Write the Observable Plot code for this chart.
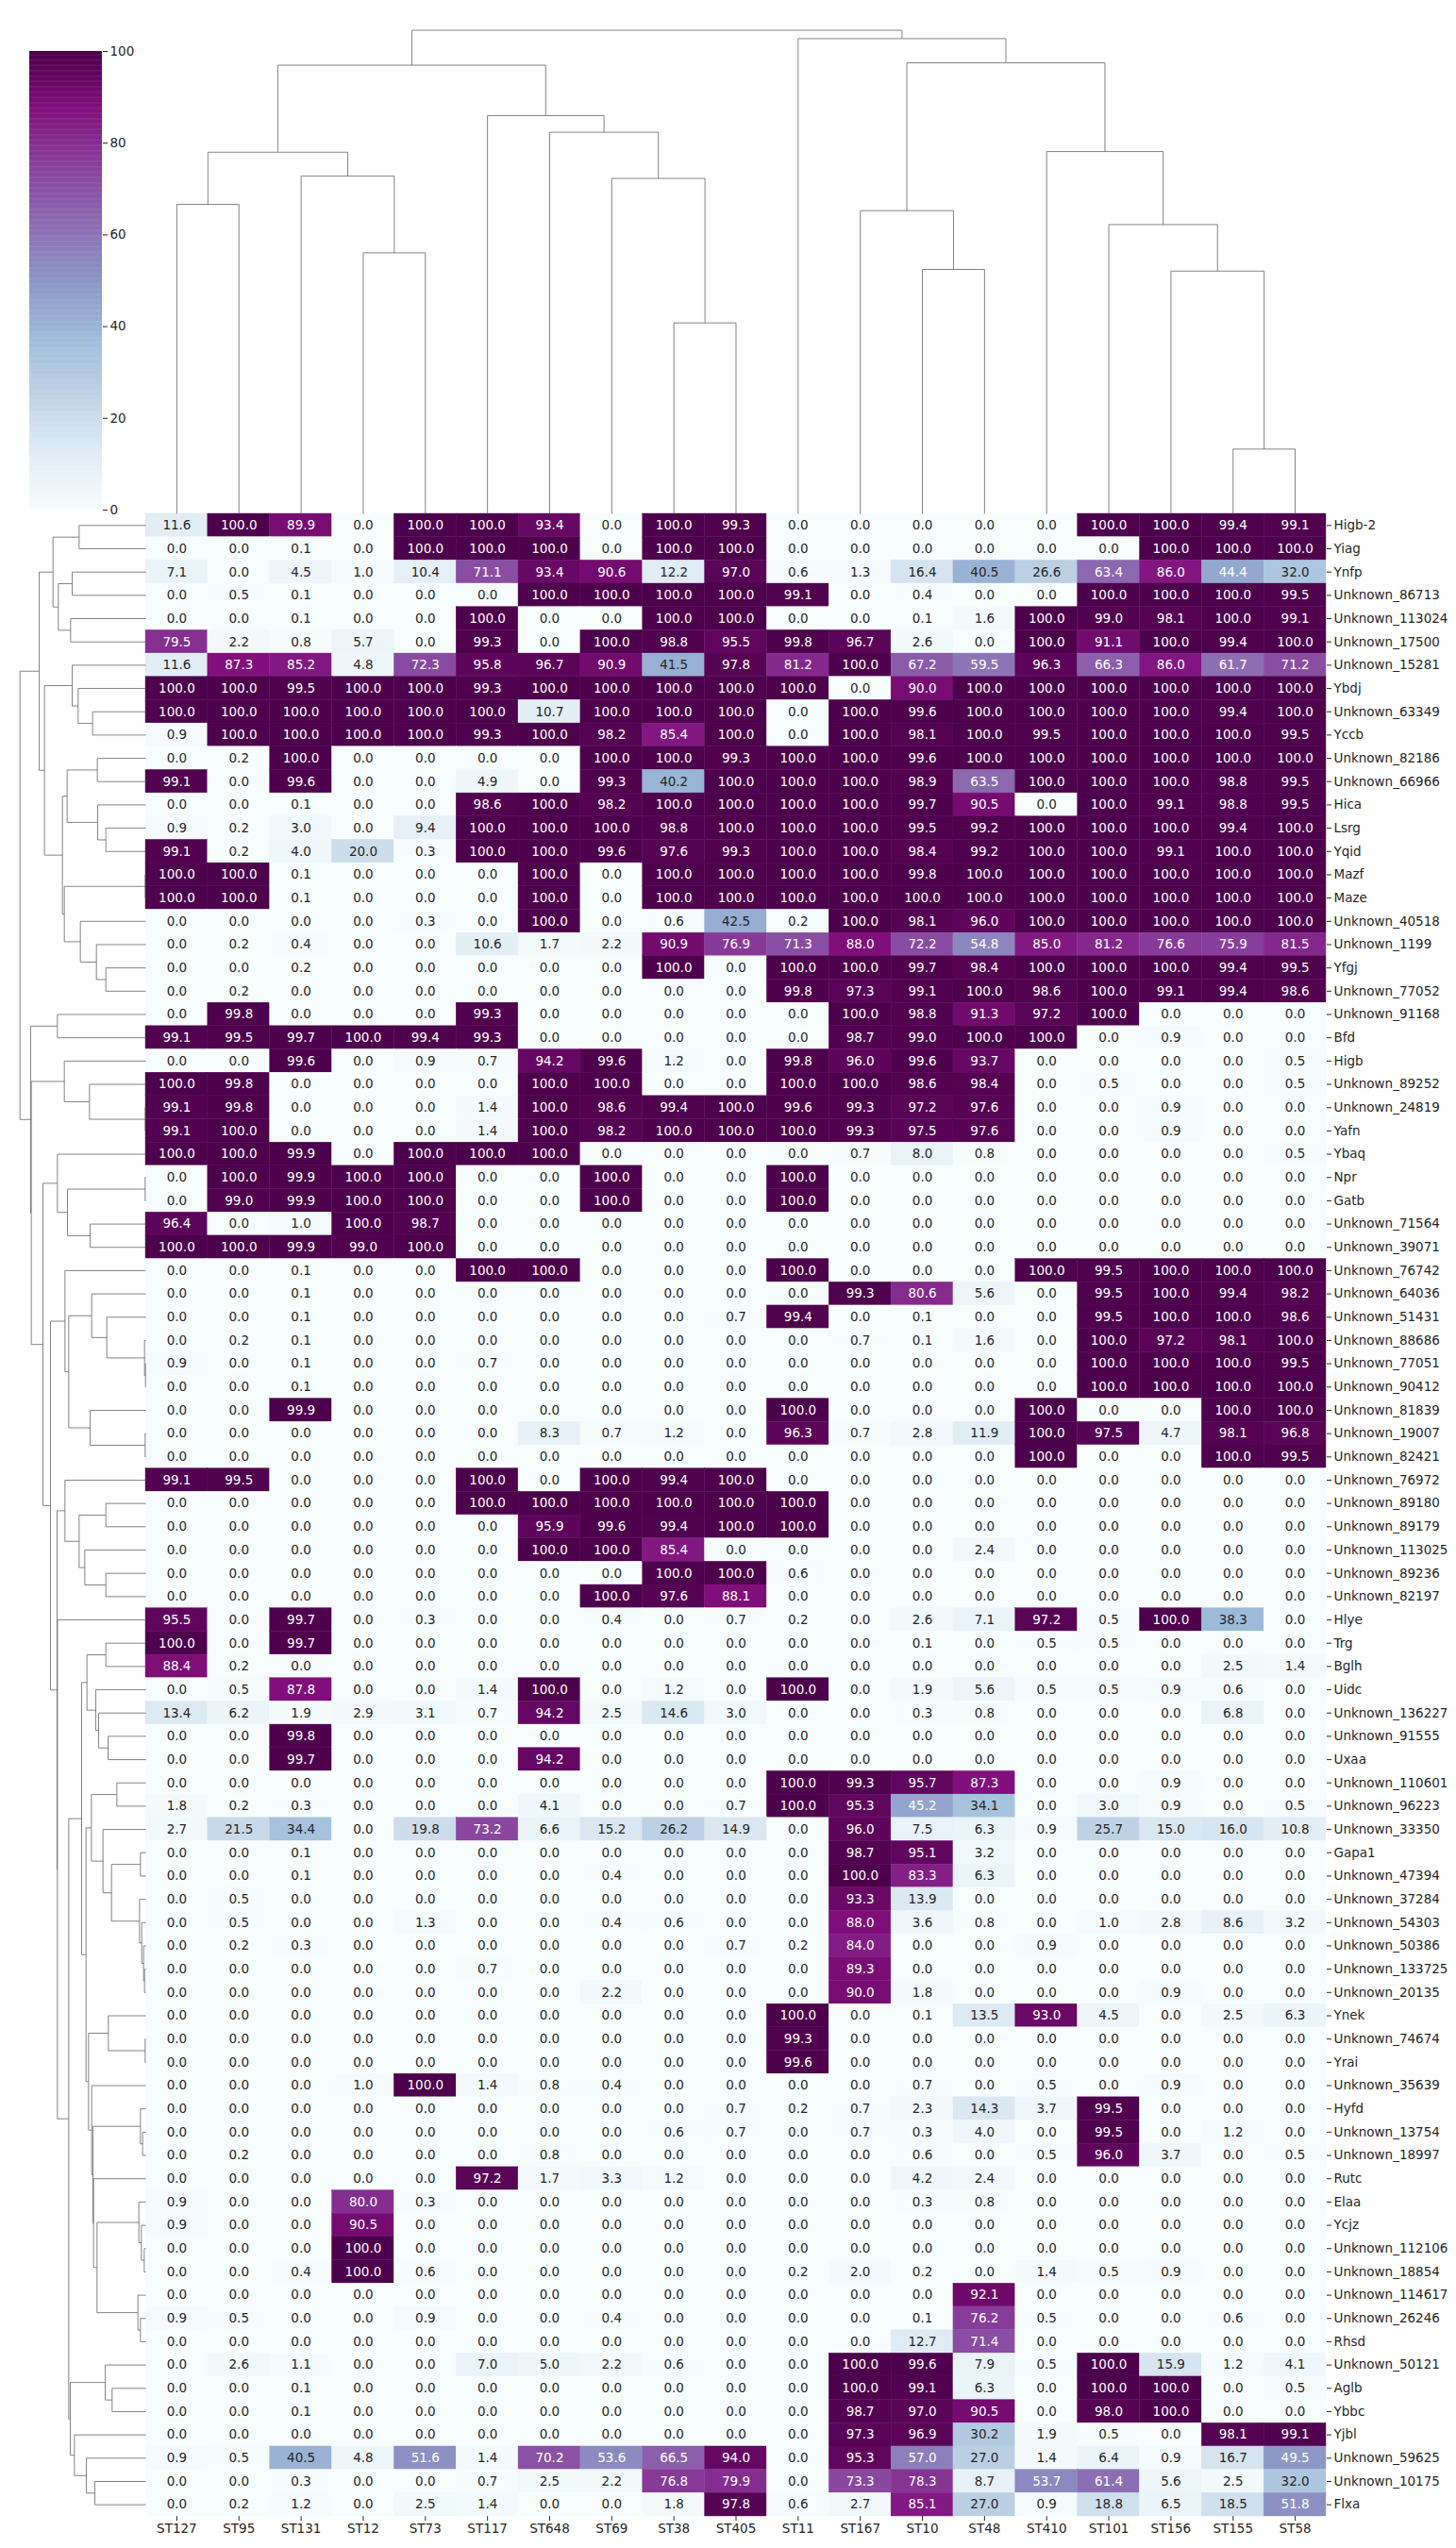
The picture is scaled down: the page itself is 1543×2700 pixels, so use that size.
<!DOCTYPE html>
<html><head><meta charset="utf-8">
<script src="https://cdn.jsdelivr.net/npm/d3@7"></script>
<script src="https://cdn.jsdelivr.net/npm/@observablehq/plot@0.6"></script>
<style>
body{margin:0;background:#fff;}
#wrap{position:relative;width:1543px;height:2700px;font-family:"DejaVu Sans",sans-serif;overflow:hidden;}
</style></head><body><div id="wrap"></div>
<script>
// ---------------- data ----------------
const columns = ["ST127","ST95","ST131","ST12","ST73","ST117","ST648","ST69","ST38","ST405","ST11","ST167","ST10","ST48","ST410","ST101","ST156","ST155","ST58"];

const rowLabels = ["Higb-2","Yiag","Ynfp","Unknown_86713","Unknown_113024","Unknown_17500","Unknown_15281","Ybdj","Unknown_63349","Yccb","Unknown_82186","Unknown_66966","Hica","Lsrg","Yqid","Mazf","Maze","Unknown_40518","Unknown_1199","Yfgj","Unknown_77052","Unknown_91168","Bfd","Higb","Unknown_89252","Unknown_24819","Yafn","Ybaq","Npr","Gatb","Unknown_71564","Unknown_39071","Unknown_76742","Unknown_64036","Unknown_51431","Unknown_88686","Unknown_77051","Unknown_90412","Unknown_81839","Unknown_19007","Unknown_82421","Unknown_76972","Unknown_89180","Unknown_89179","Unknown_113025","Unknown_89236","Unknown_82197","Hlye","Trg","Bglh","Uidc","Unknown_136227","Unknown_91555","Uxaa","Unknown_110601","Unknown_96223","Unknown_33350","Gapa1","Unknown_47394","Unknown_37284","Unknown_54303","Unknown_50386","Unknown_133725","Unknown_20135","Ynek","Unknown_74674","Yrai","Unknown_35639","Hyfd","Unknown_13754","Unknown_18997","Rutc","Elaa","Ycjz","Unknown_112106","Unknown_18854","Unknown_114617","Unknown_26246","Rhsd","Unknown_50121","Aglb","Ybbc","Yjbl","Unknown_59625","Unknown_10175","Flxa"];

const values = [
[11.6,100,89.9,0,100,100,93.4,0,100,99.3,0,0,0,0,0,100,100,99.4,99.1],
[0,0,0.1,0,100,100,100,0,100,100,0,0,0,0,0,0,100,100,100],
[7.1,0,4.5,1.0,10.4,71.1,93.4,90.6,12.2,97.0,0.6,1.3,16.4,40.5,26.6,63.4,86.0,44.4,32.0],
[0,0.5,0.1,0,0,0,100,100,100,100,99.1,0,0.4,0,0,100,100,100,99.5],
[0,0,0.1,0,0,100,0,0,100,100,0,0,0.1,1.6,100,99.0,98.1,100,99.1],
[79.5,2.2,0.8,5.7,0,99.3,0,100,98.8,95.5,99.8,96.7,2.6,0,100,91.1,100,99.4,100],
[11.6,87.3,85.2,4.8,72.3,95.8,96.7,90.9,41.5,97.8,81.2,100,67.2,59.5,96.3,66.3,86.0,61.7,71.2],
[100,100,99.5,100,100,99.3,100,100,100,100,100,0,90.0,100,100,100,100,100,100],
[100,100,100,100,100,100,10.7,100,100,100,0,100,99.6,100,100,100,100,99.4,100],
[0.9,100,100,100,100,99.3,100,98.2,85.4,100,0,100,98.1,100,99.5,100,100,100,99.5],
[0,0.2,100,0,0,0,0,100,100,99.3,100,100,99.6,100,100,100,100,100,100],
[99.1,0,99.6,0,0,4.9,0,99.3,40.2,100,100,100,98.9,63.5,100,100,100,98.8,99.5],
[0,0,0.1,0,0,98.6,100,98.2,100,100,100,100,99.7,90.5,0,100,99.1,98.8,99.5],
[0.9,0.2,3.0,0,9.4,100,100,100,98.8,100,100,100,99.5,99.2,100,100,100,99.4,100],
[99.1,0.2,4.0,20.0,0.3,100,100,99.6,97.6,99.3,100,100,98.4,99.2,100,100,99.1,100,100],
[100,100,0.1,0,0,0,100,0,100,100,100,100,99.8,100,100,100,100,100,100],
[100,100,0.1,0,0,0,100,0,100,100,100,100,100,100,100,100,100,100,100],
[0,0,0,0,0.3,0,100,0,0.6,42.5,0.2,100,98.1,96.0,100,100,100,100,100],
[0,0.2,0.4,0,0,10.6,1.7,2.2,90.9,76.9,71.3,88.0,72.2,54.8,85.0,81.2,76.6,75.9,81.5],
[0,0,0.2,0,0,0,0,0,100,0,100,100,99.7,98.4,100,100,100,99.4,99.5],
[0,0.2,0,0,0,0,0,0,0,0,99.8,97.3,99.1,100,98.6,100,99.1,99.4,98.6],
[0,99.8,0,0,0,99.3,0,0,0,0,0,100,98.8,91.3,97.2,100,0,0,0],
[99.1,99.5,99.7,100,99.4,99.3,0,0,0,0,0,98.7,99.0,100,100,0,0.9,0,0],
[0,0,99.6,0,0.9,0.7,94.2,99.6,1.2,0,99.8,96.0,99.6,93.7,0,0,0,0,0.5],
[100,99.8,0,0,0,0,100,100,0,0,100,100,98.6,98.4,0,0.5,0,0,0.5],
[99.1,99.8,0,0,0,1.4,100,98.6,99.4,100,99.6,99.3,97.2,97.6,0,0,0.9,0,0],
[99.1,100,0,0,0,1.4,100,98.2,100,100,100,99.3,97.5,97.6,0,0,0.9,0,0],
[100,100,99.9,0,100,100,100,0,0,0,0,0.7,8.0,0.8,0,0,0,0,0.5],
[0,100,99.9,100,100,0,0,100,0,0,100,0,0,0,0,0,0,0,0],
[0,99.0,99.9,100,100,0,0,100,0,0,100,0,0,0,0,0,0,0,0],
[96.4,0,1.0,100,98.7,0,0,0,0,0,0,0,0,0,0,0,0,0,0],
[100,100,99.9,99.0,100,0,0,0,0,0,0,0,0,0,0,0,0,0,0],
[0,0,0.1,0,0,100,100,0,0,0,100,0,0,0,100,99.5,100,100,100],
[0,0,0.1,0,0,0,0,0,0,0,0,99.3,80.6,5.6,0,99.5,100,99.4,98.2],
[0,0,0.1,0,0,0,0,0,0,0.7,99.4,0,0.1,0,0,99.5,100,100,98.6],
[0,0.2,0.1,0,0,0,0,0,0,0,0,0.7,0.1,1.6,0,100,97.2,98.1,100],
[0.9,0,0.1,0,0,0.7,0,0,0,0,0,0,0,0,0,100,100,100,99.5],
[0,0,0.1,0,0,0,0,0,0,0,0,0,0,0,0,100,100,100,100],
[0,0,99.9,0,0,0,0,0,0,0,100,0,0,0,100,0,0,100,100],
[0,0,0,0,0,0,8.3,0.7,1.2,0,96.3,0.7,2.8,11.9,100,97.5,4.7,98.1,96.8],
[0,0,0,0,0,0,0,0,0,0,0,0,0,0,100,0,0,100,99.5],
[99.1,99.5,0,0,0,100,0,100,99.4,100,0,0,0,0,0,0,0,0,0],
[0,0,0,0,0,100,100,100,100,100,100,0,0,0,0,0,0,0,0],
[0,0,0,0,0,0,95.9,99.6,99.4,100,100,0,0,0,0,0,0,0,0],
[0,0,0,0,0,0,100,100,85.4,0,0,0,0,2.4,0,0,0,0,0],
[0,0,0,0,0,0,0,0,100,100,0.6,0,0,0,0,0,0,0,0],
[0,0,0,0,0,0,0,100,97.6,88.1,0,0,0,0,0,0,0,0,0],
[95.5,0,99.7,0,0.3,0,0,0.4,0,0.7,0.2,0,2.6,7.1,97.2,0.5,100,38.3,0],
[100,0,99.7,0,0,0,0,0,0,0,0,0,0.1,0,0.5,0.5,0,0,0],
[88.4,0.2,0,0,0,0,0,0,0,0,0,0,0,0,0,0,0,2.5,1.4],
[0,0.5,87.8,0,0,1.4,100,0,1.2,0,100,0,1.9,5.6,0.5,0.5,0.9,0.6,0],
[13.4,6.2,1.9,2.9,3.1,0.7,94.2,2.5,14.6,3.0,0,0,0.3,0.8,0,0,0,6.8,0],
[0,0,99.8,0,0,0,0,0,0,0,0,0,0,0,0,0,0,0,0],
[0,0,99.7,0,0,0,94.2,0,0,0,0,0,0,0,0,0,0,0,0],
[0,0,0,0,0,0,0,0,0,0,100,99.3,95.7,87.3,0,0,0.9,0,0],
[1.8,0.2,0.3,0,0,0,4.1,0,0,0.7,100,95.3,45.2,34.1,0,3.0,0.9,0,0.5],
[2.7,21.5,34.4,0,19.8,73.2,6.6,15.2,26.2,14.9,0,96.0,7.5,6.3,0.9,25.7,15.0,16.0,10.8],
[0,0,0.1,0,0,0,0,0,0,0,0,98.7,95.1,3.2,0,0,0,0,0],
[0,0,0.1,0,0,0,0,0.4,0,0,0,100,83.3,6.3,0,0,0,0,0],
[0,0.5,0,0,0,0,0,0,0,0,0,93.3,13.9,0,0,0,0,0,0],
[0,0.5,0,0,1.3,0,0,0.4,0.6,0,0,88.0,3.6,0.8,0,1.0,2.8,8.6,3.2],
[0,0.2,0.3,0,0,0,0,0,0,0.7,0.2,84.0,0,0,0.9,0,0,0,0],
[0,0,0,0,0,0.7,0,0,0,0,0,89.3,0,0,0,0,0,0,0],
[0,0,0,0,0,0,0,2.2,0,0,0,90.0,1.8,0,0,0,0.9,0,0],
[0,0,0,0,0,0,0,0,0,0,100,0,0.1,13.5,93.0,4.5,0,2.5,6.3],
[0,0,0,0,0,0,0,0,0,0,99.3,0,0,0,0,0,0,0,0],
[0,0,0,0,0,0,0,0,0,0,99.6,0,0,0,0,0,0,0,0],
[0,0,0,1.0,100,1.4,0.8,0.4,0,0,0,0,0.7,0,0.5,0,0.9,0,0],
[0,0,0,0,0,0,0,0,0,0.7,0.2,0.7,2.3,14.3,3.7,99.5,0,0,0],
[0,0,0,0,0,0,0,0,0.6,0.7,0,0.7,0.3,4.0,0,99.5,0,1.2,0],
[0,0.2,0,0,0,0,0.8,0,0,0,0,0,0.6,0,0.5,96.0,3.7,0,0.5],
[0,0,0,0,0,97.2,1.7,3.3,1.2,0,0,0,4.2,2.4,0,0,0,0,0],
[0.9,0,0,80.0,0.3,0,0,0,0,0,0,0,0.3,0.8,0,0,0,0,0],
[0.9,0,0,90.5,0,0,0,0,0,0,0,0,0,0,0,0,0,0,0],
[0,0,0,100,0,0,0,0,0,0,0,0,0,0,0,0,0,0,0],
[0,0,0.4,100,0.6,0,0,0,0,0,0.2,2.0,0.2,0,1.4,0.5,0.9,0,0],
[0,0,0,0,0,0,0,0,0,0,0,0,0,92.1,0,0,0,0,0],
[0.9,0.5,0,0,0.9,0,0,0.4,0,0,0,0,0.1,76.2,0.5,0,0,0.6,0],
[0,0,0,0,0,0,0,0,0,0,0,0,12.7,71.4,0,0,0,0,0],
[0,2.6,1.1,0,0,7.0,5.0,2.2,0.6,0,0,100,99.6,7.9,0.5,100,15.9,1.2,4.1],
[0,0,0.1,0,0,0,0,0,0,0,0,100,99.1,6.3,0,100,100,0,0.5],
[0,0,0.1,0,0,0,0,0,0,0,0,98.7,97.0,90.5,0,98.0,100,0,0],
[0,0,0,0,0,0,0,0,0,0,0,97.3,96.9,30.2,1.9,0.5,0,98.1,99.1],
[0.9,0.5,40.5,4.8,51.6,1.4,70.2,53.6,66.5,94.0,0,95.3,57.0,27.0,1.4,6.4,0.9,16.7,49.5],
[0,0,0.3,0,0,0.7,2.5,2.2,76.8,79.9,0,73.3,78.3,8.7,53.7,61.4,5.6,2.5,32.0],
[0,0.2,1.2,0,2.5,1.4,0,0,1.8,97.8,0.6,2.7,85.1,27.0,0.9,18.8,6.5,18.5,51.8]
];

// column linkage: [mergeHeight, left, right]
const colTree = [1456,
  [1351,
    [1089, [932, "ST127", "ST95"], [1017, "ST131", [786, "ST12", "ST73"]]],
    [1199, "ST117", [1149, "ST648", [1010, "ST69", [575, "ST38", "ST405"]]]]],
  [1431, "ST11",
    [1358,
      [913, "ST167", [736, "ST10", "ST48"]],
      [1091, "ST410", [871, "ST101", [731, "ST156", [195, "ST155", "ST58"]]]]]]];

// row linkage: [mergeHeight, upper, lower]
const rowTree = [400,
  [339,
    [295, [212, "Higb-2", "Yiag"], [278, [234, "Ynfp", "Unknown_86713"], [239, "Unknown_113024", "Unknown_17500"]]],
    [322,
      [234, "Unknown_15281", [215, "Ybdj", [169, "Unknown_63349", "Yccb"]]],
      [265,
        [250, [154, "Unknown_82186", "Unknown_66966"], [153, "Hica", [127, "Lsrg", "Yqid"]]],
        [259, [2, "Mazf", "Maze"], [208, "Unknown_40518", [157, "Unknown_1199", [127, "Yfgj", "Unknown_77052"]]]]]]],
  [366,
    [281, "Unknown_91168", "Bfd"],
    [364,
      [259, "Higb", [179, "Unknown_89252", [2, "Unknown_24819", "Yafn"]]],
      [327,
        [281, "Ybaq", [249, [2, "Npr", "Gatb"], [177, "Unknown_71564", "Unknown_39071"]]],
        [303,
          [257, "Unknown_76742",
            [245,
              [172, "Unknown_64036", [124, "Unknown_51431", [4, "Unknown_88686", [1, "Unknown_77051", "Unknown_90412"]]]],
              [177, "Unknown_81839", [2, "Unknown_19007", "Unknown_82421"]]]],
          [282,
            [257, "Unknown_76972", [212, [127, "Unknown_89180", "Unknown_89179"], [194, "Unknown_113025", [127, "Unknown_89236", "Unknown_82197"]]]],
            [281, "Hlye",
              [245,
                [204,
                  [187, [127, "Trg", "Bglh"], [159, "Uidc", [150, "Unknown_136227", [120, "Unknown_91555", "Uxaa"]]]],
                  [190,
                    [173, [92, "Unknown_110601", "Unknown_96223"],
                      [136, "Unknown_33350", [109, [17, "Gapa1", "Unknown_47394"],
                        [20, "Unknown_37284", [13, "Unknown_54303", [7, "Unknown_50386", [4, "Unknown_133725", "Unknown_20135"]]]]]]],
                    [182, [119, "Ynek", [2, "Unknown_74674", "Yrai"]],
                      [172, "Unknown_35639",
                        [168, [17, "Hyfd", [10, "Unknown_13754", "Unknown_18997"]],
                          [166, "Rutc",
                            [155, [22, "Elaa", [14, "Ycjz", [5, "Unknown_112106", "Unknown_18854"]]],
                                  [25, "Unknown_114617", [17, "Unknown_26246", "Rhsd"]]]]]]]]],
                [240, [129, "Unknown_50121", [107, "Aglb", "Ybbc"]],
                      [227, "Yjbl", [189, "Unknown_59625", [162, "Unknown_10175", "Flxa"]]]]]]]]]]]];

const colorTicks = [0, 20, 40, 60, 80, 100];
const buPu = ["#f7fcfd","#e0ecf4","#bfd3e6","#9ebcda","#8c96c6","#8c6bb1","#88419d","#810f7c","#4d004b"];

// ---------------- layout ----------------
const W = 1543, H = 2700;
const HX0 = 154, HX1 = 1405, HY0 = 544, HY1 = 2666;
const TXT = "#262626";
const FS = 13.5;
const wrap = document.getElementById("wrap");
function place(el, left, top) {
  el.style.position = "absolute"; el.style.left = left + "px"; el.style.top = top + "px";
  wrap.appendChild(el);
}
const baseStyle = {background: "transparent", fontFamily: "'DejaVu Sans', sans-serif", fontSize: FS + "px", color: TXT, overflow: "visible", maxWidth: "none"};

const colorStops = buPu.map((_, i) => i * 100 / (buPu.length - 1));
const colorOpts = {type: "linear", domain: colorStops, range: buPu, interpolate: "rgb"};

// seaborn text-colour rule (relative luminance)
const cmap = d3.scaleLinear().domain(colorStops).range(buPu).interpolate(d3.interpolateRgb).clamp(true);
function isDark(v) {
  const c = d3.rgb(cmap(v));
  const lin = x => { x /= 255; return x <= 0.03928 ? x / 12.92 : Math.pow((x + 0.055) / 1.055, 2.4); };
  const lum = 0.2126 * lin(c.r) + 0.7152 * lin(c.g) + 0.0722 * lin(c.b);
  return lum <= 0.408;
}

const cells = [];
rowLabels.forEach((r, i) => {
  if (values[i].length !== columns.length) console.warn("row length", r, values[i].length);
  columns.forEach((c, j) => cells.push({row: r, col: c, v: values[i][j]}));
});

// ---------------- heatmap ----------------
const heat = Plot.plot({
  width: W - HX0, height: H - HY0,
  marginLeft: 0, marginTop: 0, marginRight: W - HX1, marginBottom: H - HY1,
  style: baseStyle,
  x: {domain: columns, padding: 0, round: false, axis: "bottom", tickSize: 5, tickPadding: 3, label: null},
  y: {domain: rowLabels, padding: 0, round: false, axis: "right", tickSize: 5, tickPadding: 3, label: null},
  color: colorOpts,
  marks: [
    Plot.cell(cells, {x: "col", y: "row", fill: "v", stroke: "v", strokeWidth: 0.4, inset: 0}),
    Plot.text(cells.filter(d => isDark(d.v)), {x: "col", y: "row", text: d => d.v.toFixed(1), fill: "white", fontSize: FS}),
    Plot.text(cells.filter(d => !isDark(d.v)), {x: "col", y: "row", text: d => d.v.toFixed(1), fill: TXT, fontSize: FS})
  ]
});
place(heat, HX0, HY0);

// ---------------- dendrograms ----------------
function treeSegments(tree, order) {
  const idx = new Map(order.map((d, i) => [d, i]));
  const segs = [];
  (function walk(n) {
    if (typeof n === "string") return {p: idx.get(n) + 0.5, h: 0};
    const [h, a, b] = n;
    const A = walk(a), B = walk(b);
    segs.push({p1: A.p, h1: A.h, p2: A.p, h2: h});
    segs.push({p1: A.p, h1: h, p2: B.p, h2: h});
    segs.push({p1: B.p, h1: B.h, p2: B.p, h2: h});
    return {p: (A.p + B.p) / 2, h};
  })(tree);
  return segs;
}
const treeStroke = {stroke: "#666", strokeWidth: 0.8};

const colSegs = treeSegments(colTree, columns);
const colDen = Plot.plot({
  width: HX1 - HX0, height: HY0,
  marginLeft: 0, marginRight: 0, marginBottom: 0, marginTop: 6,
  style: baseStyle,
  x: {type: "linear", domain: [0, columns.length], axis: null},
  y: {type: "linear", domain: [0, colTree[0] * 1.05], axis: null},
  marks: [Plot.link(colSegs, {x1: "p1", y1: "h1", x2: "p2", y2: "h2", ...treeStroke})]
});
place(colDen, HX0, 0);

const rowSegs = treeSegments(rowTree, rowLabels);
const rowDen = Plot.plot({
  width: HX0, height: H - HY0,
  marginLeft: 14, marginRight: 0, marginTop: 0, marginBottom: H - HY1,
  style: baseStyle,
  x: {type: "linear", domain: [rowTree[0] * 1.05, 0], axis: null},
  y: {type: "linear", domain: [0, rowLabels.length], reverse: true, axis: null},
  marks: [Plot.link(rowSegs, {x1: "h1", y1: "p1", x2: "h2", y2: "p2", ...treeStroke})]
});
place(rowDen, 0, HY0);

// ---------------- colour bar ----------------
const steps = d3.range(0, 100, 0.25);
const cbar = Plot.plot({
  width: HX0, height: 545,
  marginLeft: 31, marginRight: HX0 - 108, marginTop: 54, marginBottom: 5,
  style: baseStyle,
  x: {type: "linear", domain: [0, 1], axis: null},
  y: {type: "linear", domain: [0, 100], axis: "right", ticks: colorTicks, tickSize: 5, tickPadding: 3, label: null, tickFormat: d => String(d)},
  color: colorOpts,
  marks: [Plot.rect(steps, {x1: () => 0, x2: () => 1, y1: d => d, y2: d => Math.min(100, d + 0.35), fill: d => d + 0.125})]
});
place(cbar, 0, 0);
</script>
</body></html>
